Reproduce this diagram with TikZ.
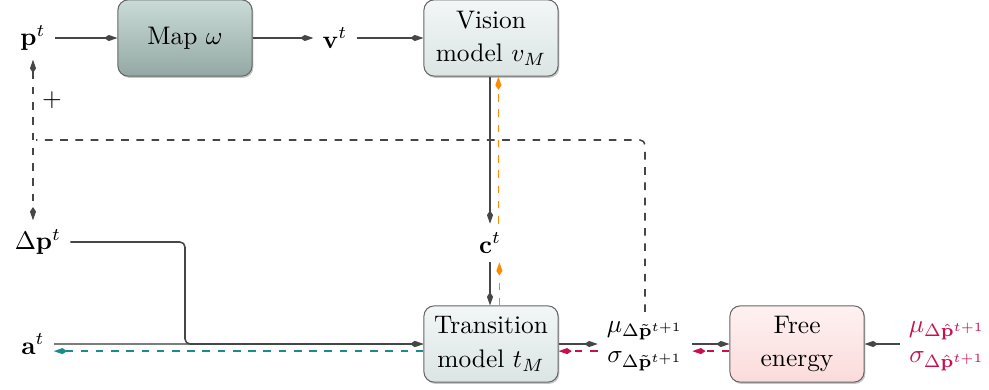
\documentclass[tikz,border=0pt]{standalone}
\usepackage{amsmath}
\usetikzlibrary{arrows.meta,shadows}
\definecolor{cline}{RGB}{70,70,70}
\definecolor{cgrad}{RGB}{200,16,80}
\definecolor{cteal}{RGB}{26,140,140}
\definecolor{corange}{RGB}{255,140,0}
\definecolor{maptop}{RGB}{202,219,215}
\definecolor{mapbot}{RGB}{147,168,164}
\definecolor{modtop}{RGB}{242,246,246}
\definecolor{modbot}{RGB}{219,229,228}
\definecolor{fetop}{RGB}{254,241,241}
\definecolor{febot}{RGB}{251,219,219}
\tikzset{agent/.style={x=0.3937pt,y=-0.3937pt,semithick,
    >={Kite[length=5.2pt,width=2.4pt,inset=1.8pt]}},
  block/.style={draw=black!60,thin,rounded corners=4pt,align=center,
    minimum width=52.8pt,minimum height=30pt,
    drop shadow={shadow xshift=0.5pt,shadow yshift=-0.7pt,opacity=0.45}},
  grad/.style={->,dashed}}

\begin{document}
\begin{tikzpicture}[agent]
    \useasboundingbox (0,0) rectangle (989,389);
    % top row
    \node (pt) at (33,38) {$\mathbf{p}^t$};
    \node[block,top color=maptop,bottom color=mapbot] (map) at (185,38) {Map $\omega$};
    \node (vt) at (335,38) {$\mathbf{v}^t$};
    \node[block,top color=modtop,bottom color=modbot] (vis) at (491,38) {Vision\\[1.2pt]model $v_M$};
    \node (plus) at (52,100) {$+$};
    % middle row
    \node (dpt) at (38,242) {$\Delta\mathbf{p}^t$};
    \node (ct) at (490,243) {$\mathbf{c}^t$};
    % bottom row
    \node (at) at (33,344) {$\mathbf{a}^t$};
    \node[block,top color=modtop,bottom color=modbot] (tm) at (491,344) {Transition\\[1.2pt]model $t_M$};
    \node[align=center] (musig) at (645,346) {$\mu_{\Delta\tilde{\mathbf{p}}^{t+1}}$\\$\sigma_{\Delta\tilde{\mathbf{p}}^{t+1}}$};
    \node[block,top color=fetop,bottom color=febot] (fe) at (797,344) {Free\\[1.2pt]energy};
    \node[align=center,text=cgrad] (target) at (947,346) {$\mu_{\Delta\hat{\mathbf{p}}^{t+1}}$\\$\sigma_{\Delta\hat{\mathbf{p}}^{t+1}}$};
    \coordinate (bend) at (185,344);
    \coordinate (join) at (36,140);

    \draw[->,cline] (pt) -- (map);
    \draw[->,cline] (map) -- (vt);
    \draw[->,cline] (vt) -- (vis);
    \draw[->,cline] (vis.south -| ct) -- (ct);
    \draw[->,cline] (ct) -- (ct |- tm.north);
    \draw[grad,corange] ([xshift=3.3pt]tm.north) -- ([xshift=3.3pt]tm.north |- ct.south);
    \draw[grad,corange] ([xshift=3.3pt]ct.north) -- ([xshift=3.3pt]ct.north |- vis.south);
    \draw[->,cline!70] (at) -- (tm);
    \draw[->,cline,rounded corners=2pt] (dpt.east) -| (bend) -- (tm.west);
    \draw[grad,cteal] ([yshift=-2.8pt]tm.west) -- ([yshift=-2.8pt]tm.west -| at.east);
    \draw[->,cline] (tm.east) -- (tm.east -| musig.west);
    \draw[grad,cgrad] ([yshift=-2.8pt]tm.east -| musig.west) -- ([yshift=-2.8pt]tm.east);
    \draw[->,cline] (musig.east |- fe.west) -- (fe.west);
    \draw[grad,cgrad] ([yshift=-2.8pt]fe.west) -- ([yshift=-2.8pt]fe.west -| musig.east);
    \draw[->,cline] (target.west |- fe.east) -- (fe.east);
    \draw[cline,dashed,rounded corners=2pt] (musig.north) |- (join);
    \draw[<->,cline,dashed] (pt.south) -- (pt.south |- dpt.north);
\end{tikzpicture}
\end{document}
